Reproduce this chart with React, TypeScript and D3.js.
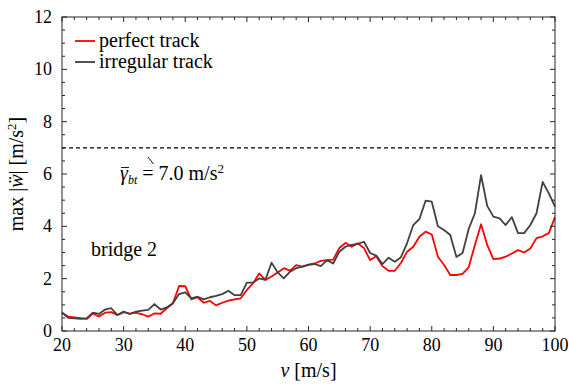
import React from "react";
import * as d3 from "d3";

const speeds: number[] = d3.range(20, 101);
const perfectTrack: number[] = [
  0.70, 0.55, 0.52, 0.49, 0.46, 0.67, 0.55, 0.70, 0.72, 0.61,
  0.72, 0.66, 0.70, 0.64, 0.55, 0.67, 0.66, 0.87, 1.06, 1.72,
  1.71, 1.21, 1.29, 1.08, 1.15, 0.98, 1.08, 1.16, 1.21, 1.25,
  1.57, 1.82, 2.20, 1.95, 2.08, 2.24, 2.40, 2.31, 2.52, 2.46,
  2.54, 2.58, 2.68, 2.71, 2.73, 3.17, 3.37, 3.22, 3.35, 3.17,
  2.71, 2.86, 2.48, 2.30, 2.30, 2.60, 3.03, 3.22, 3.60, 3.80,
  3.69, 2.84, 2.52, 2.14, 2.14, 2.18, 2.44, 3.29, 4.08, 3.29,
  2.75, 2.77, 2.84, 2.96, 3.09, 3.00, 3.15, 3.55, 3.62, 3.74,
  4.35,
];
const irregularTrack: number[] = [
  0.70, 0.50, 0.48, 0.46, 0.48, 0.70, 0.65, 0.82, 0.87, 0.61,
  0.74, 0.65, 0.74, 0.78, 0.81, 1.03, 0.82, 0.90, 1.06, 1.41,
  1.48, 1.25, 1.31, 1.21, 1.29, 1.34, 1.41, 1.54, 1.37, 1.37,
  1.85, 1.85, 2.01, 1.95, 2.61, 2.24, 2.01, 2.27, 2.40, 2.46,
  2.53, 2.56, 2.48, 2.71, 2.58, 3.03, 3.22, 3.29, 3.33, 3.41,
  2.98, 2.88, 2.56, 2.80, 2.65, 2.82, 3.36, 4.05, 4.28, 4.98,
  4.94, 4.00, 3.86, 3.67, 2.83, 2.98, 3.90, 4.50, 5.96, 4.78,
  4.37, 4.30, 4.05, 4.35, 3.74, 3.74, 4.05, 4.50, 5.70, 5.26,
  4.75,
];
const xTicks: number[] = [20, 30, 40, 50, 60, 70, 80, 90, 100];
const yTicks: number[] = [0, 2, 4, 6, 8, 10, 12];
const xMinor: number[] = d3.range(20, 101, 2);
const yMinor: number[] = d3.range(0, 12.01, 0.5);
const threshold = 7.0;

const W = 569, H = 386;
const L = 62, R = 555, T = 17, B = 331;
const FONT = "Liberation Serif, Times New Roman, serif";

export default function App() {
  const x = d3.scaleLinear().domain([20, 100]).range([L, R]);
  const y = d3.scaleLinear().domain([0, 12]).range([B, T]);
  const line = (vals: number[]) =>
    d3.line<number>().x((_, i) => x(speeds[i])).y((d) => y(d))(vals) || "";
  const tk = 5;
  const tk2 = 3;
  return (
    <svg width={W} height={H} style={{ position: "absolute", left: 0, top: 0, background: "#fff", fontFamily: FONT }}>
      <rect x={0} y={0} width={W} height={H} fill="#fff" />
      <line x1={L} x2={R} y1={y(threshold)} y2={y(threshold)} stroke="#000" strokeWidth={1.1} strokeDasharray="4,3" />
      <path d={line(perfectTrack)} fill="none" stroke="#ff0000" strokeWidth={1.8} strokeLinejoin="round" />
      <path d={line(irregularTrack)} fill="none" stroke="#404040" strokeWidth={1.8} strokeLinejoin="round" />
      <rect x={L} y={T} width={R - L} height={B - T} fill="none" stroke="#262626" strokeWidth={1} />
      {xMinor.map((v) => {
        const major = xTicks.includes(v);
        const len = major ? tk : tk2;
        return (
          <g key={"xm" + v}>
            <line x1={x(v)} x2={x(v)} y1={B} y2={B - len} stroke="#262626" />
            <line x1={x(v)} x2={x(v)} y1={T} y2={T + len} stroke="#262626" />
          </g>
        );
      })}
      {yMinor.map((v) => {
        const major = yTicks.includes(v);
        const len = major ? tk : tk2;
        return (
          <g key={"ym" + v}>
            <line x1={L} x2={L + len} y1={y(v)} y2={y(v)} stroke="#262626" />
            <line x1={R} x2={R - len} y1={y(v)} y2={y(v)} stroke="#262626" />
          </g>
        );
      })}
      {xTicks.map((v) => (
        <text key={"xt" + v} x={x(v)} y={B + 20} fontSize={18} textAnchor="middle" fill="#000">{v}</text>
      ))}
      {yTicks.map((v) => (
        <text key={"yt" + v} x={L - 10} y={y(v) + 6} fontSize={18} textAnchor="end" fill="#000">{v}</text>
      ))}
      <text x={(L + R) / 2} y={B + 46} fontSize={20} textAnchor="middle" fill="#000">
        <tspan fontStyle="italic">v</tspan> [m/s]
      </text>
      <text transform={`translate(23,${(T + B) / 2}) rotate(-90)`} fontSize={20} textAnchor="middle" fill="#000">
        max |<tspan fontStyle="italic">{"w\u0308"}</tspan>| [m/s<tspan fontSize={13} dy={-7}>2</tspan><tspan dy={7}>]</tspan>
      </text>
      <line x1={75} x2={95} y1={41} y2={41} stroke="#ff0000" strokeWidth={1.8} />
      <text x={99} y={47} fontSize={20} fill="#000">perfect track</text>
      <line x1={75} x2={95} y1={62} y2={62} stroke="#404040" strokeWidth={1.8} />
      <text x={99} y={68} fontSize={20} fill="#000">irregular track</text>
      <line x1={148} x2={153.5} y1={157} y2={164} stroke="#000" strokeWidth={0.9} />
      <line x1={121} x2={129} y1={167.5} y2={167.5} stroke="#000" strokeWidth={0.9} />
      <text x={120} y={180} fontSize={20} fill="#000">
        <tspan fontStyle="italic">{"\u03B3"}</tspan>
        <tspan fontStyle="italic" fontSize={12} dy={4}>bt</tspan>
        <tspan dy={-4}> = 7.0 m/s</tspan>
        <tspan fontSize={13} dy={-7}>2</tspan>
      </text>
      <text x={91} y={256} fontSize={20} fill="#000">bridge 2</text>
    </svg>
  );
}
